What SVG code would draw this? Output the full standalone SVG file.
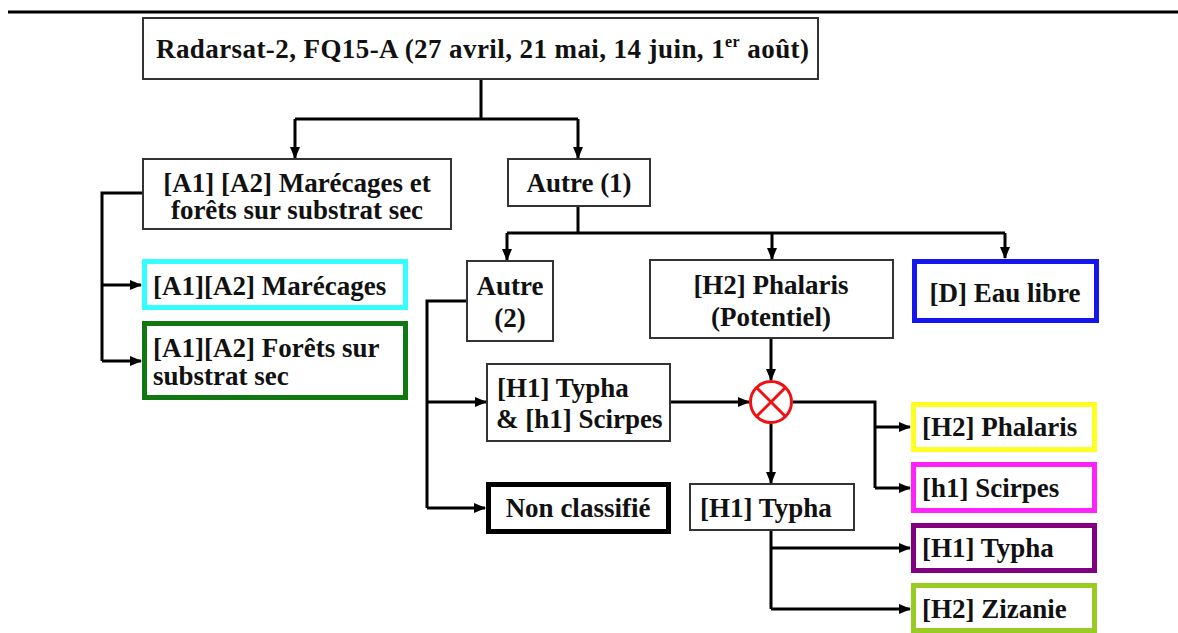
<svg xmlns="http://www.w3.org/2000/svg" width="1178" height="633" viewBox="0 0 1178 633">
<style>
.c{text-anchor:middle}
.box{fill:#fff;stroke:#333;stroke-width:2}
.thick{fill:#fff;stroke-width:5}
.ln{fill:none;stroke:#000;stroke-width:3}
.ar{fill:none;stroke:#000;stroke-width:3;marker-end:url(#ah)}
</style>
<defs>
<marker id="ah" viewBox="0 0 12 10" refX="11" refY="5" markerWidth="12" markerHeight="10" markerUnits="userSpaceOnUse" orient="auto">
<path d="M0,0 L12,5 L0,10 z" fill="#000"/>
</marker>
</defs>
<rect width="1178" height="633" fill="#fff"/>
<line x1="8" y1="12" x2="1178" y2="12" stroke="#000" stroke-width="3"/>

<g id="connectors">
<path class="ln" d="M481,79 V119 M295,119 H578"/>
<path class="ar" d="M295,119 V158"/>
<path class="ar" d="M578,119 V158"/>
<path class="ln" d="M143,193 H102 V361"/>
<path class="ar" d="M102,285 H141"/>
<path class="ar" d="M102,361 H141"/>
<path class="ln" d="M578,206 V233 M507,233 H1005"/>
<path class="ar" d="M507,233 V260"/>
<path class="ar" d="M772,233 V259"/>
<path class="ar" d="M1005,233 V258"/>
<path class="ln" d="M467,301 H427 V508"/>
<path class="ar" d="M427,402 H486"/>
<path class="ar" d="M427,508 H485"/>
<path class="ar" d="M670,402 H749"/>
<path class="ar" d="M771,338 V380"/>
<path class="ln" d="M793,402 H875 V488"/>
<path class="ar" d="M875,427 H910"/>
<path class="ar" d="M875,488 H910"/>
<path class="ar" d="M771,424 V483"/>
<path class="ln" d="M771,530 V609"/>
<path class="ar" d="M771,548 H910"/>
<path class="ar" d="M771,609 H910"/>
</g>

<g font-family="Liberation Serif, serif" font-weight="bold" font-size="27" fill="#111">
<g id="title">
<rect class="box" x="143" y="18" width="675" height="61"/>
<text x="156" y="58" textLength="653" lengthAdjust="spacing">Radarsat-2, FQ15-A (27 avril, 21 mai, 14 juin, 1<tspan font-size="16" dy="-11">er</tspan><tspan dy="11"> août)</tspan></text>
</g>
<g id="nodeA">
<rect class="box" x="143" y="159" width="308" height="70"/>
<text class="c" x="297" y="192">[A1] [A2] Marécages et</text>
<text class="c" x="297" y="219">forêts sur substrat sec</text>
</g>
<g id="autre1">
<rect class="box" x="508" y="159" width="142" height="47"/>
<text class="c" x="579" y="192">Autre (1)</text>
</g>
<g id="marecages">
<rect class="thick" x="144.5" y="261.5" width="261" height="46" stroke="#33ffff"/>
<text x="153" y="295">[A1][A2] Marécages</text>
</g>
<g id="forets">
<rect class="thick" x="144.5" y="323.5" width="261" height="74" stroke="#117711"/>
<text x="153" y="357">[A1][A2] Forêts sur</text>
<text x="153" y="385">substrat sec</text>
</g>
<g id="autre2">
<rect class="box" x="467" y="261" width="86" height="80"/>
<text class="c" x="510" y="295">Autre</text>
<text class="c" x="510" y="327">(2)</text>
</g>
<g id="phalarisPot">
<rect class="box" x="650" y="260" width="243" height="78"/>
<text class="c" x="771" y="294">[H2] Phalaris</text>
<text class="c" x="771" y="326">(Potentiel)</text>
</g>
<g id="eau">
<rect class="thick" x="914.5" y="261.5" width="182" height="59" stroke="#1515ee"/>
<text class="c" x="1005" y="302">[D] Eau libre</text>
</g>
<g id="typhaScirpes">
<rect class="box" x="487" y="364" width="183" height="77"/>
<text x="497" y="397">[H1] Typha</text>
<text x="496" y="428">&amp; [h1] Scirpes</text>
</g>
<g id="cross">
<circle cx="771" cy="402" r="20.5" fill="#fff" stroke="#ee1111" stroke-width="3"/>
<path d="M756.5,387.5 L785.5,416.5 M785.5,387.5 L756.5,416.5" stroke="#ee1111" stroke-width="3"/>
</g>
<g id="nonclass">
<rect class="thick" x="488.5" y="484.5" width="180" height="47" stroke="#000"/>
<text class="c" x="578" y="517">Non classifié</text>
</g>
<g id="typha1">
<rect class="box" x="690" y="484" width="164" height="46"/>
<text x="700" y="517">[H1] Typha</text>
</g>
<g id="phalaris">
<rect class="thick" x="913.5" y="404.5" width="181" height="45" stroke="#ffff22"/>
<text x="922" y="436">[H2] Phalaris</text>
</g>
<g id="scirpes">
<rect class="thick" x="913.5" y="464.5" width="181" height="46" stroke="#ff22ff"/>
<text x="922" y="497">[h1] Scirpes</text>
</g>
<g id="typha2">
<rect class="thick" x="913.5" y="525.5" width="181" height="45" stroke="#800080"/>
<text x="922" y="557">[H1] Typha</text>
</g>
<g id="zizanie">
<rect class="thick" x="913.5" y="585.5" width="181" height="45" stroke="#99cc22"/>
<text x="922" y="618">[H2] Zizanie</text>
</g>
</g>
</svg>
